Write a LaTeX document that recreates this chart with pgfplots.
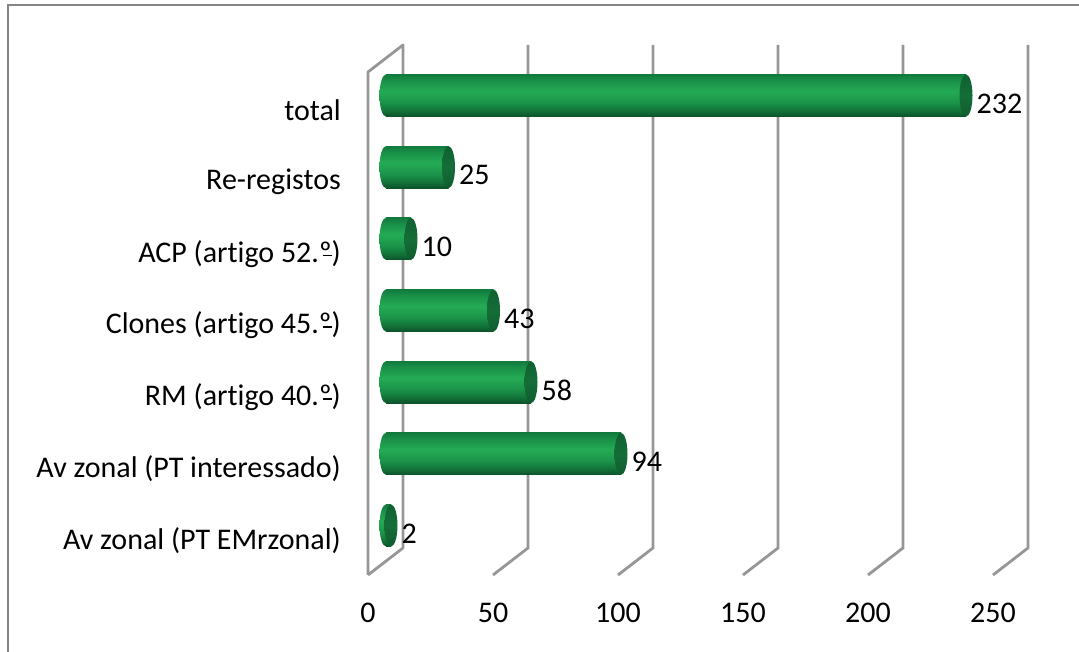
\documentclass[border=0pt]{standalone}
\usepackage{pgfplots}
\usepackage{pgfplotstable}
\usepackage{fontspec}
\setmainfont{Carlito}[RawFeature={-liga;-clig;-calt;-dlig}]
\pgfplotsset{compat=1.18}
\pgfdeclareverticalshading{cyl}{100bp}{rgb(0bp)=(0.05,0.32,0.17);rgb(25bp)=(0.05,0.32,0.17);rgb(32bp)=(0.07,0.45,0.22);rgb(42bp)=(0.11,0.58,0.29);rgb(55bp)=(0.14,0.67,0.33);rgb(68bp)=(0.10,0.56,0.28);rgb(75bp)=(0.07,0.48,0.24);rgb(100bp)=(0.07,0.48,0.24)}
\pgfdeclareverticalshading{capshade}{100bp}{rgb(0bp)=(0.06,0.36,0.18);rgb(25bp)=(0.06,0.36,0.18);rgb(50bp)=(0.08,0.43,0.22);rgb(75bp)=(0.06,0.38,0.19);rgb(100bp)=(0.06,0.38,0.19)}
\pgfdeclareplotmark{capleft}{\pgfpathellipse{\pgfpointorigin}{\pgfqpoint{6.5pt}{0pt}}{\pgfqpoint{0pt}{21pt}}\pgfshadepath{cyl}{0}\pgfusepath{discard}}
\pgfdeclareplotmark{capright}{\pgfpathellipse{\pgfpointorigin}{\pgfqpoint{6.5pt}{0pt}}{\pgfqpoint{0pt}{21pt}}\pgfshadepath{capshade}{0}\pgfusepath{discard}}
\definecolor{framegray}{HTML}{858585}
\definecolor{gridgray}{HTML}{969696}
\newcommand{\ordo}{º\llap{\rule[0.2em]{0.3em}{0.05em}}}
\pgfplotstableread{
y v
0 2
1 94
2 58
3 43
4 10
5 25
6 232
}\bars
\begin{document}
\begin{tikzpicture}[x=1pt,y=1pt]
\useasboundingbox (0,0) rectangle (1079,652);
\begin{axis}[
  at={(368pt,77pt)}, anchor=south west,
  scale only axis, width=660pt, height=530pt,
  xmin=-7.2, xmax=256.8, ymin=-0.691, ymax=6.705,
  clip=false,
  axis line style={draw=none},
  major tick length=0pt,
  xtick={-7.2,42.8,92.8,142.8,192.8,242.8},
  xticklabels={0,50,100,150,200,250},
  ytick={0,1,2,3,4,5,6},
  yticklabels={Av zonal (PT EMrzonal),Av zonal (PT interessado),RM (artigo 40.\ordo),Clones (artigo 45.\ordo),ACP (artigo 52.\ordo),Re-registos,total},
  tick label style={font=\fontsize{30}{34}\selectfont},
  xticklabel style={anchor=center, inner sep=0pt, yshift=-38pt},
  yticklabel style={anchor=east, inner sep=0pt, xshift=-27pt, yshift=-15pt},
  /pgf/number format/assume math mode=true,
  barcyl/.style={xbar, bar width=42pt, draw=none, shading=cyl},
]
% chart frame (top and left edges)
\addplot[framegray, line width=2.8pt] coordinates {(-151.2,-1.78) (-151.2,7.263) (277.6,7.263)};
% walls and gridlines
\addplot[gridgray, line width=2.8pt, line join=round] coordinates {(-7.2,-0.691) (-7.2,6.328) (6.8,6.705) (6.8,-0.314) (-7.2,-0.691)};
\addplot[gridgray, line width=2.8pt] coordinates {(42.8,-0.691) (56.8,-0.314) (56.8,6.705)};
\addplot[gridgray, line width=2.8pt] coordinates {(92.8,-0.691) (106.8,-0.314) (106.8,6.705)};
\addplot[gridgray, line width=2.8pt] coordinates {(142.8,-0.691) (156.8,-0.314) (156.8,6.705)};
\addplot[gridgray, line width=2.8pt] coordinates {(192.8,-0.691) (206.8,-0.314) (206.8,6.705)};
\addplot[gridgray, line width=2.8pt] coordinates {(242.8,-0.691) (256.8,-0.314) (256.8,6.705)};
% cylinders
\addplot[only marks, mark=capleft] table[x expr=0, y=y] {\bars};
\addplot[barcyl] coordinates {(2,0)};
\addplot[barcyl] coordinates {(94,1)};
\addplot[barcyl] coordinates {(58,2)};
\addplot[barcyl] coordinates {(43,3)};
\addplot[barcyl] coordinates {(10,4)};
\addplot[barcyl] coordinates {(25,5)};
\addplot[barcyl] coordinates {(232,6)};
\addplot[only marks, mark=capright, point meta=x,
  nodes near coords, nodes near coords align=horizontal,
  every node near coord/.append style={anchor=west, inner sep=0pt, xshift=10.5pt, yshift=-8pt, font=\fontsize{30}{34}\selectfont, text=black}
  ] table[x=v, y=y] {\bars};
\end{axis}
\end{tikzpicture}
\end{document}
